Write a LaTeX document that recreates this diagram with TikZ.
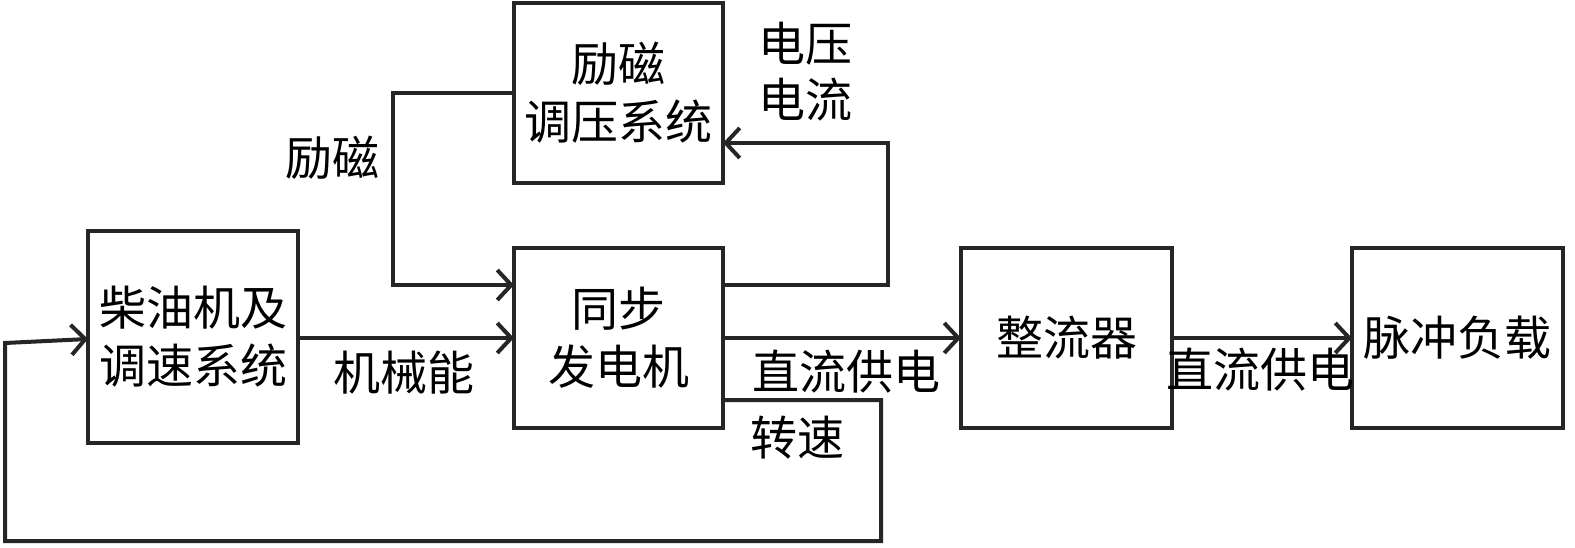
\documentclass[tikz,border=0pt]{standalone}
\usepackage{fontspec}
\newfontfamily\cjk{Noto Sans CJK SC}
\usetikzlibrary{arrows.meta}
\begin{document}
\begin{tikzpicture}[x=1pt,y=-1pt,
  box/.style={draw=black!85,line width=4pt,outer sep=0pt,inner sep=0pt,align=center,font=\cjk\fontsize{47}{58}\selectfont},
  lbl/.style={inner sep=0pt,align=center,font=\cjk\fontsize{47}{56}\selectfont},
  wire/.style={draw=black!85,line width=4pt,line join=miter},
  arr/.style={wire,-{Straight Barb[length=14pt,width=30pt,line width=4pt]}}]
\useasboundingbox (0,0) rectangle (1575,547);
\node[box,minimum width=209pt,minimum height=180pt] (exc) at (618.5,93) {励磁\\调压系统};
\node[box,minimum width=210pt,minimum height=212pt] (die) at (193,337) {柴油机及\\调速系统};
\node[box,minimum width=209pt,minimum height=180pt] (gen) at (618.5,338) {同步\\发电机};
\node[box,minimum width=211pt,minimum height=180pt] (rec) at (1066.5,338) {整流器};
\node[box,minimum width=211pt,minimum height=180pt] (pul) at (1457.5,338) {脉冲负载};
% labels
\node[lbl] (l1) at (332,158) {励磁};
\node[lbl] (l2) at (805,72) {电压\\电流};
\node[lbl] (l3) at (404,373) {机械能};
\node[lbl] (l4) at (846,372) {直流供电};
\node[lbl] (l5) at (797,438) {转速};
\node[lbl] (l6) at (1260,370) {直流供电};
% coordinates
\coordinate (a1) at (393,93);
\coordinate (a2) at (393,285);
\coordinate (b1) at (888,285);
\coordinate (b2) at (888,143);
\coordinate (c1) at (881,400);
\coordinate (c2) at (881,541);
\coordinate (c3) at (5,541);
\coordinate (c4) at (5,343);
% connectors
\draw[arr] (exc.west) -- (a1) -- (a2) -- (gen.west |- a2);
\draw[arr] (gen.east |- b1) -- (b1) -- (b2) -- (exc.east |- b2);
\draw[arr] (die.east |- gen.west) -- (gen.west);
\draw[arr] (gen.east) -- (rec.west);
\draw[arr] (rec.east) -- (pul.west);
\draw[arr] (gen.east |- c1) -- (c1) -- (c2) -- (c3) -- (c4) -- (die.west |- 0,339);
\end{tikzpicture}
\end{document}
